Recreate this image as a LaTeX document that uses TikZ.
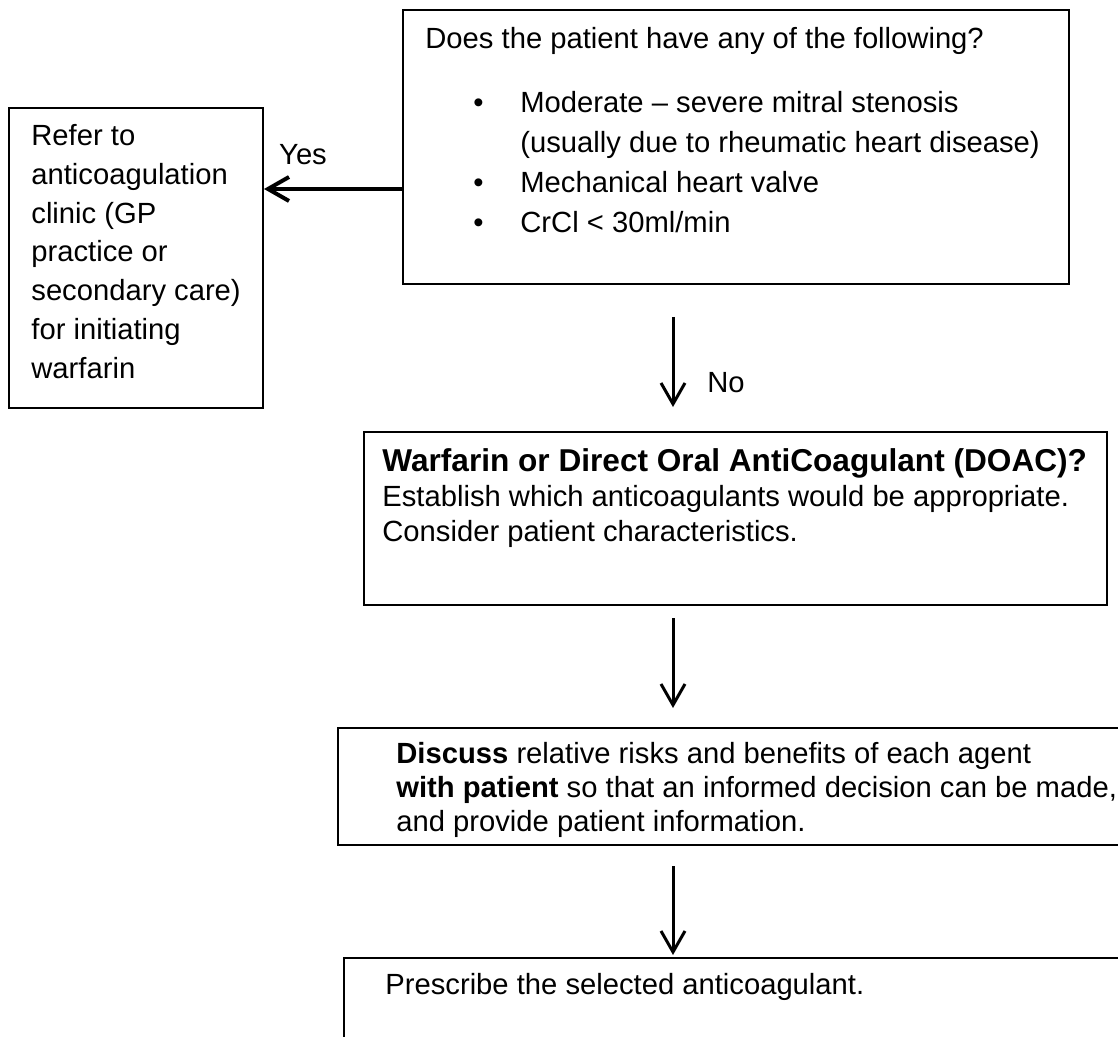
\documentclass[tikz,border=0pt]{standalone}
\usepackage{fontspec}
\setmainfont{Liberation Sans}
\usetikzlibrary{calc,positioning,arrows.meta}

\tikzset{
  box/.style={draw, line width=1pt, anchor=north west, inner sep=0pt},
  txt/.style={anchor=north west, inner sep=0pt, align=left, font=\fontsize{14.6pt}{19.4pt}\selectfont},
  arr/.style={-{Straight Barb[length=10.5pt,width=12pt]}, line width=1.5pt},
}

\begin{document}
\begin{tikzpicture}[x=0.5pt, y=-0.5pt]
\useasboundingbox (0,0) rectangle (1118,1037);

\node [box, minimum width=333pt, minimum height=137pt] (q) at (402,9) {};
\node [box, minimum width=127pt, minimum height=150pt] (refer) at (8,107) {};
\node [box, minimum width=371.5pt, minimum height=86.5pt] (choice) at (363,431) {};
\node [box, minimum width=420pt, minimum height=58.5pt] (discuss) at (337,727) {};
\node [box, minimum width=420pt, minimum height=80pt] (prescribe) at (343,957) {};

\node [txt] (q-head) at (425,27) {Does the patient have any of the following?};
\node [txt, anchor=base west, font=\fontsize{14.6pt}{20pt}\selectfont] (q-list) at (473,113) {%
  \begin{tabular}[t]{@{}p{23.5pt}@{}l@{}}
  • & Moderate – severe mitral stenosis\\
    & (usually due to rheumatic heart disease)\\
  • & Mechanical heart valve\\
  • & CrCl < 30ml/min
  \end{tabular}};

\node [txt] (refer-text) at (31,124) {Refer to\\anticoagulation\\clinic (GP\\practice or\\secondary care)\\for initiating\\warfarin};

\node [txt, font=\fontsize{14.6pt}{17.5pt}\selectfont] (choice-text) at (382,448)
  {{\fontsize{15.8pt}{17.5pt}\selectfont\bfseries Warfarin or Direct Oral AntiCoagulant (DOAC)?}\\Establish which anticoagulants would be appropriate.\\Consider patient characteristics.};

\node [txt, font=\fontsize{14.6pt}{17pt}\selectfont] (discuss-text) at (396,742)
  {\textbf{Discuss} relative risks and benefits of each agent\\\textbf{with patient} so that an informed decision can be made,\\and provide patient information.};

\node [txt] (prescribe-text) at (385,973) {Prescribe the selected anticoagulant.};

\node [txt, anchor=center] (yes) at (303,155) {Yes};
\node [txt, anchor=center] (no) at (726,383) {No};

\coordinate (spine) at (673,0);
\coordinate (yesfrom) at ([yshift=-21pt]q.west);

\draw [arr, line width=2pt] (yesfrom) -- (yesfrom -| refer.east);
\draw [arr, shorten <=16pt, shorten >=12pt] (q.south -| spine) -- (choice.north -| spine);
\draw [arr, shorten <=6pt, shorten >=9.5pt] (choice.south -| spine) -- (discuss.north -| spine);
\draw [arr, shorten <=10pt, shorten >=1pt] (discuss.south -| spine) -- (prescribe.north -| spine);
\end{tikzpicture}
\end{document}
